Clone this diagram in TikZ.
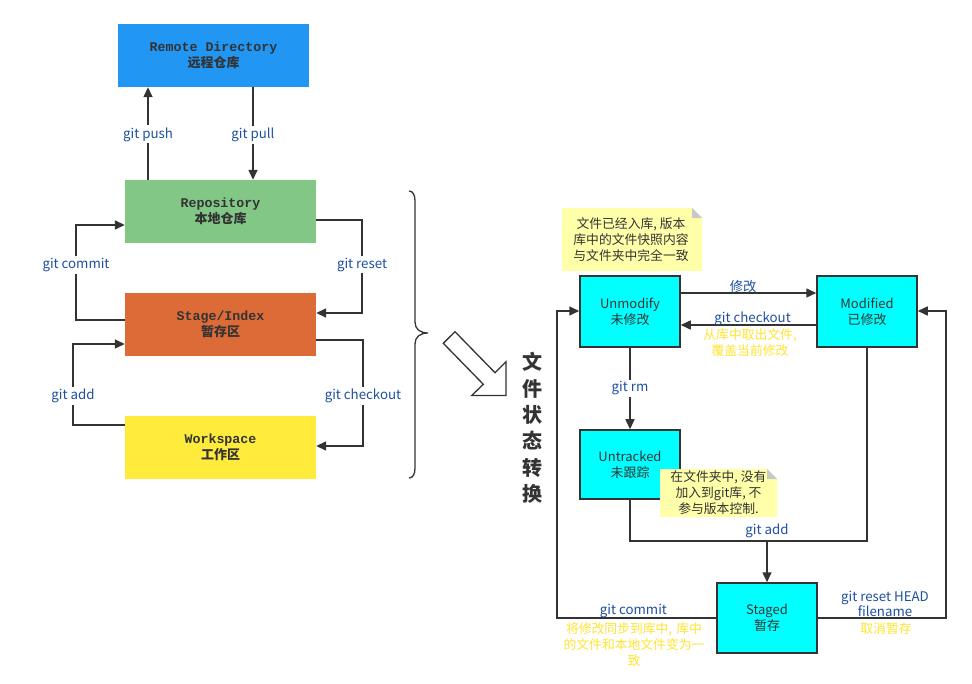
\documentclass[tikz,border=0pt]{standalone}
\usepackage{fontspec}
\setmainfont{Noto Sans CJK SC}
\newfontfamily\monob{Liberation Mono}
\usetikzlibrary{arrows.meta}
\definecolor{ln}{HTML}{333333}
\definecolor{lblue}{HTML}{1E50A0}
\definecolor{ylw}{HTML}{FFE433}
\definecolor{cremote}{HTML}{2196F3}
\definecolor{crepo}{HTML}{82C785}
\definecolor{cstage}{HTML}{DD6B37}
\definecolor{cwork}{HTML}{FFEB3B}
\definecolor{ccyan}{HTML}{00FFFF}
\definecolor{notey}{HTML}{FFFFAA}
\definecolor{notefold}{HTML}{C8C8C8}
\tikzset{
 every node/.style={font=\fontsize{12.5}{15}\selectfont},
 gbox/.style={minimum width=191pt, minimum height=63pt, inner sep=0pt, text=ln, align=center,
   font=\fontsize{13}{16.5}\selectfont\bfseries},
 sbox/.style={draw=ln, line width=1.5pt, fill=ccyan, minimum width=100pt, minimum height=71pt,
   inner sep=0pt, align=center, text=ln, font=\fontsize{13}{16}\selectfont},
 conn/.style={draw=ln, line width=1.5pt},
 arr/.style={conn, -{Triangle[length=10pt,width=9pt]}},
 lbl/.style={text=lblue, inner sep=1pt, font=\fontsize{13.3}{15}\selectfont},
 wlbl/.style={lbl, fill=white, inner sep=2pt},
 ylbl/.style={text=ylw, align=center, inner sep=0pt, font=\fontsize{12.8}{16}\selectfont},
 notetxt/.style={text=ln, align=center, inner sep=0pt, font=\fontsize{12.8}{16}\selectfont},
}
\begin{document}
\begin{tikzpicture}[x=1pt,y=-1pt]
\useasboundingbox (0,0) rectangle (972,684);
\fill[white] (0,0) rectangle (972,684);

% ---------- left column ----------
\node[gbox, fill=cremote] (remote) at (213.5,55.5) {{\monob\fontsize{13.3}{16.5}\selectfont Remote Directory}\\远程仓库};
\node[gbox, fill=crepo] (repo) at (220.5,211.5) {{\monob\fontsize{13.3}{16.5}\selectfont Repository}\\本地仓库};
\node[gbox, fill=cstage] (stage) at (220.5,324.5) {{\monob\fontsize{13.3}{16.5}\selectfont Stage/Index}\\暂存区};
\node[gbox, fill=cwork] (work) at (220.5,447.5) {{\monob\fontsize{13.3}{16.5}\selectfont Workspace}\\工作区};

\draw[arr] (repo.north -| 148,0) -- node[wlbl, pos=0.49]{git push} (remote.south -| 148,0);
\draw[arr] (remote.south -| 253,0) -- node[wlbl, pos=0.52]{git pull} (repo.north -| 253,0);

\draw[arr] (stage.west |- 0,320) -- (76,320) -- node[wlbl, pos=0.58]{git commit} (76,225) -- (repo.west |- 0,225);
\draw[arr] (repo.east |- 0,220) -- (362,220) -- node[wlbl, pos=0.48]{git reset} (362,313) -- (stage.east |- 0,313);
\draw[arr] (work.west |- 0,425) -- (73,425) -- node[wlbl, pos=0.36]{git add} (73,344) -- (stage.west |- 0,344);
\draw[arr] (stage.east |- 0,340) -- (363,340) -- node[wlbl, pos=0.53]{git checkout} (363,446) -- (work.east |- 0,446);

% brace
\draw[ln, line width=1.3pt] (409,191) .. controls (413,191) and (415,195) .. (415,201) -- (415,322)
  .. controls (415,329) and (420,333) .. (428,333)
  .. controls (420,333) and (415,337) .. (415,344) -- (415,468)
  .. controls (415,474) and (413,478) .. (409,478);

% hollow arrow
\draw[ln, line width=1.3pt, fill=white] (443.3,343.3) -- (455,331.7) -- (495,372.7) -- (506,361.7)
  -- (506,395.5) -- (471.7,395.5) -- (483.3,384.3) -- cycle;

\node[text=ln, align=center, inner sep=0pt, font=\fontsize{20}{26.4}\selectfont\bfseries] (title) at (532,428)
  {文\\件\\状\\态\\转\\换};

% ---------- right column ----------
\node[sbox] (un) at (630,311.5) {Unmodify\\未修改};
\node[sbox] (mod) at (867,311.5) {Modified\\已修改};
\node[sbox, minimum height=69pt] (unt) at (630,464.5) {Untracked\\未跟踪};
\node[sbox, minimum height=70pt] (st) at (767,618) {Staged\\暂存};

% notes
\fill[notey] (562,208) -- (692,208) -- (702,218) -- (702,271) -- (562,271) -- cycle;
\fill[notefold] (692,208) -- (692,218) -- (702,218) -- cycle;
\node[notetxt] (note1) at (631,240) {文件已经入库, 版本\\库中的文件快照内容\\与文件夹中完全一致};

% connectors
\draw[arr] (un.east |- 0,293) -- node[lbl, pos=0.46, yshift=7pt]{修改} (mod.west |- 0,293);
\draw[arr] (mod.west |- 0,325) -- node[lbl, pos=0.47, yshift=6pt]{git checkout} (un.east |- 0,325);
\node[ylbl] (ylab1) at (750,343) {从库中取出文件,\\覆盖当前修改};

\draw[arr] (un.south) -- node[wlbl, pos=0.5]{git rm} (unt.north);

\draw[arr] (unt.south) -- (630,541) -| node[lbl, pos=0.5, above, yshift=1pt]{git add} (st.north);
\draw[conn] (mod.south) |- (767,541);

\draw[arr] (st.west |- 0,618) -- node[lbl, pos=0.52, yshift=7pt]{git commit} (557,618) -- (557,311) -- (un.west |- 0,311);
\node[ylbl, text width=146pt] (ylab2) at (634,645) {将修改同步到库中, 库中\\的文件和本地文件变为一\\致};

\draw[arr] (st.east |- 0,618) -- (946,618) -- (946,311) -- (mod.east |- 0,311);
\node[lbl, align=center, inner sep=0pt] (lab3) at (885,604) {git reset HEAD\\filename};
\node[ylbl] (ylab3) at (886,629) {取消暂存};

% note 2 (on top of Untracked box)
\fill[notey] (660,469) -- (767,469) -- (777,479) -- (777,517) -- (660,517) -- cycle;
\fill[notefold] (767,469) -- (767,479) -- (777,479) -- cycle;
\node[notetxt] (note2) at (718.5,493) {在文件夹中, 没有\\加入到git库, 不\\参与版本控制.};
\end{tikzpicture}
\end{document}
